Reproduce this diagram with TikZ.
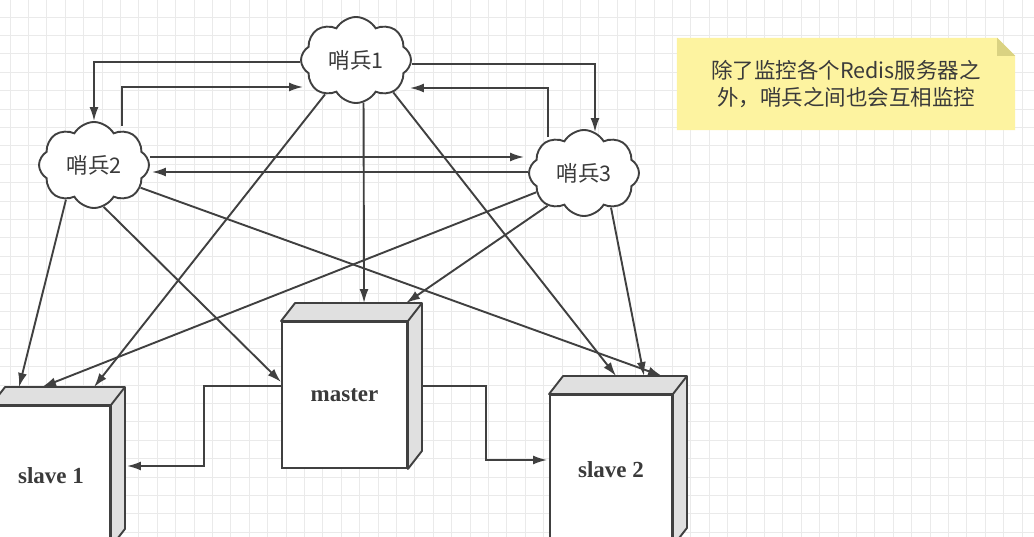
\documentclass[tikz,border=0pt]{standalone}
\usepackage{fontspec}
\newfontfamily\cjk{Noto Sans CJK SC}
\newfontfamily\srvfont{Liberation Serif}
\usetikzlibrary{shapes.symbols,arrows.meta,calc,backgrounds}
\definecolor{linegray}{RGB}{64,64,64}
\definecolor{facegray}{RGB}{224,224,224}
\definecolor{gridgray}{RGB}{234,234,234}
\definecolor{notefill}{RGB}{253,243,160}
\definecolor{notefold}{RGB}{218,210,130}
\definecolor{textgray}{RGB}{58,58,58}
\tikzset{
  sentinel/.style={cloud, cloud puffs=8, cloud puff arc=120, aspect=1.3,
    draw=linegray, line width=1.9pt, fill=white, minimum width=110pt,
    minimum height=86pt, inner sep=0pt, text=textgray,
    font=\cjk\fontsize{21.5}{24}\selectfont},
  server/.style={draw=linegray, line width=1.9pt, fill=white, inner sep=0pt,
    text=textgray, font=\srvfont\bfseries\fontsize{23}{26}\selectfont},
  link/.style={draw=linegray, line width=1.9pt, -{Latex[length=14pt,width=9pt]}},
  gridline/.style={draw=gridgray, line width=0.8pt},
}
% top and side faces of a server box
\newcommand{\boxfaces}[1]{%
  \filldraw[draw=linegray, fill=facegray, line width=1.9pt, line join=round]
    (#1.north west) -- ++(14,-18) -- ($(#1.north east)+(14,-18)$)
    -- ($(#1.south east)+(14,-18)$) -- (#1.south east) -- (#1.north east) -- cycle;
  \draw[linegray, line width=1.9pt] (#1.north east) -- ++(14,-18);
}
\begin{document}
\begin{tikzpicture}[x=1pt, y=-1pt]
  \useasboundingbox (0,0) rectangle (1034,537);
  \clip (0,0) rectangle (1034,537);

  % sentinels
  \node[sentinel] (s1) at (356,60) {哨兵1};
  \node[sentinel] (s2) at (94,165) {哨兵2};
  \node[sentinel] (s3) at (584,173) {哨兵3};

  % servers
  \node[server, minimum width=125pt, minimum height=146pt] (master) at (344.5,395) {master};
  \node[server, minimum width=118pt, minimum height=140pt] (slave1) at (51,476) {slave 1};
  \node[server, minimum width=122pt, minimum height=150pt] (slave2) at (611,470) {slave 2};
  \boxfaces{master}
  \boxfaces{slave1}
  \boxfaces{slave2}

  % note
  \node[font=\cjk\fontsize{21.5}{27}\selectfont, text=textgray, align=center,
    minimum width=338pt, minimum height=92pt] (note) at (846,84)
    {除了监控各个Redis服务器之\\外，哨兵之间也会互相监控};

  \begin{scope}[on background layer]
    \fill[white] (0,0) rectangle (1034,537);
    \foreach \i in {0,...,56}
      \draw[gridline] (10+18.4*\i,0) -- (10+18.4*\i,537);
    \foreach \j in {0,...,29}
      \draw[gridline] (0,17+18.4*\j) -- (1034,17+18.4*\j);
    \fill[notefill] (note.south west) |- ($(note.north east)+(-18,0)$)
      -- ($(note.north east)+(0,18)$) -- (note.south east) -- cycle;
    \fill[notefold] ($(note.north east)+(-18,0)$) -- ($(note.north east)+(-18,18)$)
      -- ($(note.north east)+(0,18)$) -- cycle;
  \end{scope}

  % sentinels watching each other
  \draw[link] ($(s1.west)+(0,2)$) -| (s2.north);
  \draw[link] ($(s2.north)+(28,5)$) |- ($(s1.west)+(3,27)$);
  \draw[link] ($(s1.east)+(0,4)$) -| ($(s3.north)+(11,3)$);
  \draw[link] ($(s3.north)+(-36,8)$) |- ($(s1.east)+(-2,28)$);
  \draw[link] ($(s2.east)+(0,-8)$) -- ($(s3.west)+(-4,-16)$);
  \draw[link] ($(s3.west)+(0,-1)$) -- ($(s2.east)+(2,7)$);

  % sentinels watching the servers
  \draw[link] (s1.228) -- ($(slave1.north west)+(103,-18)$);
  \draw[link] (s1.280) -- ($(master.north west)+(83,-18)$);
  \draw[link] (s1.319) -- ($(slave2.north west)+(67,-18)$);
  \draw[link] (s2.231) -- ($(slave1.north west)+(28,-18)$);
  \draw[link] (s2.283) -- ($(master.north west)+(0,61)$);
  \draw[link] (s2.334) -- ($(slave2.north west)+(113,-18)$);
  \draw[link] (s3.202) -- ($(slave1.north west)+(51,-18)$);
  \draw[link] (s3.222) -- ($(master.north west)+(125,-18)$);
  \draw[link] (s3.308) -- ($(slave2.north west)+(95,-18)$);

  % replication
  \draw[link] ($(master.west)+(0,-9)$) -- ++(-77,0) |- ($(slave1.east)+(16,-10)$);
  \draw[link] ($(master.east)+(13,-9)$) -- ++(65,0) |- ($(slave2.west)+(-2,-10)$);
\end{tikzpicture}
\end{document}
